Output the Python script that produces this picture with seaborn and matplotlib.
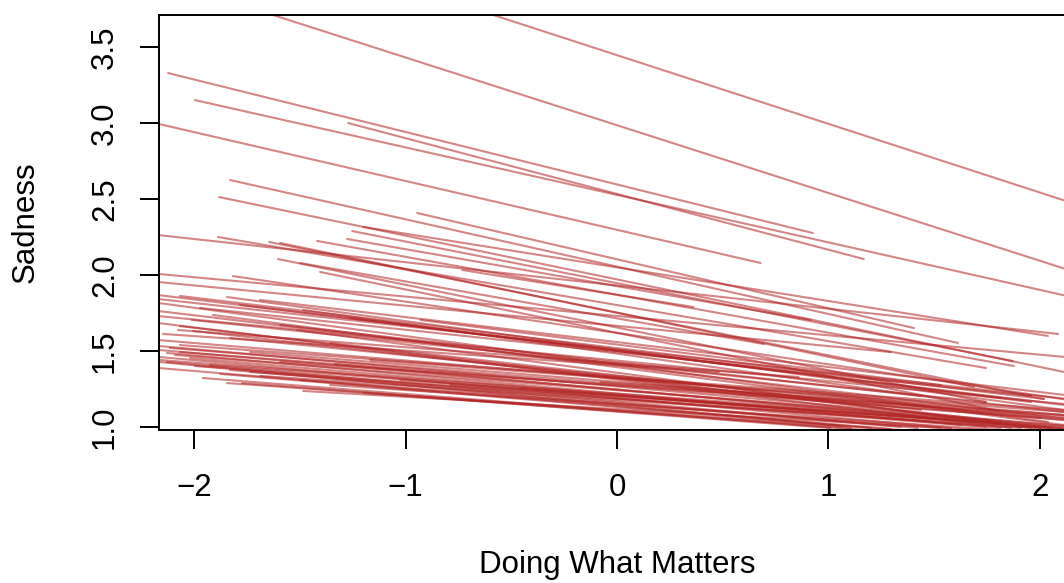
import matplotlib
matplotlib.use("Agg")
import matplotlib.pyplot as plt
import seaborn as sns
import pandas as pd

# Per-person fitted lines: start/end of each segment (Doing What Matters -> Sadness)
x_start = [-0.70, -1.75, -2.123, -1.996, -1.271, -2.17, -1.830, -1.882,
           -0.945, -1.200, -1.252, -2.17, -1.887, -1.418, -1.276, -1.645,
           -1.593, -0.732, -1.603, -1.499, -1.404, -1.816, -2.17, -2.17,
           -2.17, -2.067, -2.17, -1.844, -2.17, -2.17, -1.484, -1.911,
           -2.010, -2.17, -2.076, -2.005, -2.147, -1.513, -1.357, -1.688,
           -1.783, -1.262, -0.930, -2.067, -2.17, -1.972, -1.593, -1.830,
           -2.17, -2.17, -2.128, -2.17, -2.128, -2.17, -1.958, -1.844,
           -1.773, -1.484, -1.333, -1.200, -2.115, -2.067, -2.17, -1.996,
           -1.735, -1.593, -1.025, -0.788, -0.457, -2.17, -2.090, -2.019,
           -1.925, -1.830, -1.688, -1.499, -1.357, -2.067, -1.735, -1.167,
           -0.078, -2.17, -1.877]
y_start = [3.763, 3.766, 3.329, 3.151, 3.000, 2.995, 2.625, 2.513,
           2.408, 2.316, 2.289, 2.263, 2.250, 2.224, 2.237, 2.217,
           2.211, 2.033, 2.105, 2.079, 2.020, 1.993, 2.007, 1.954,
           1.868, 1.862, 1.842, 1.855, 1.816, 1.763, 1.770, 1.737,
           1.704, 1.684, 1.638, 1.632, 1.612, 1.638, 1.553, 1.836,
           1.803, 1.717, 1.704, 1.664, 1.730, 1.783, 1.671, 1.586,
           1.533, 1.507, 1.487, 1.461, 1.428, 1.388, 1.322, 1.289,
           1.289, 1.237, 1.414, 1.224, 1.520, 1.493, 1.441, 1.401,
           1.362, 1.428, 1.309, 1.276, 1.257, 1.572, 1.474, 1.454,
           1.408, 1.375, 1.336, 1.309, 1.276, 1.539, 1.493, 1.441,
           1.296, 1.428, 1.349]
x_end = [2.17, 2.17, 0.926, 2.17, 1.167, 0.679, 1.612, 2.114,
         1.404, 2.038, 1.872, 2.086, 1.745, 1.877, 0.916, 2.019,
         1.688, 0.362, 1.745, 0.694, 1.806, 2.17, 2.17, 1.295,
         2.114, 2.019, 2.17, 2.114, 2.038, 2.17, 1.437, 2.114,
         1.745, 1.863, 0.859, 2.100, 0.481, 1.958, 1.437, 2.114,
         1.815, 1.958, 1.531, 2.114, 2.114, 1.958, 2.114, 2.114,
         2.17, 2.114, 1.815, 1.579, 1.423, 1.295, 1.167, 1.342,
         1.010, 1.720, 2.005, 1.105, 2.005, 2.114, 1.815, 1.626,
         1.910, 2.114, 1.815, 1.579, 2.114, 2.114, 2.114, 1.745,
         2.052, 1.342, 2.114, 1.531, 1.815, 2.114, 2.114, 2.114,
         2.114, 1.058, 1.200]
y_end = [2.466, 2.018, 2.276, 1.849, 2.105, 2.079, 1.553, 1.362,
         1.651, 1.599, 1.434, 1.612, 1.388, 1.401, 1.704, 1.184,
         1.263, 1.789, 1.164, 1.546, 1.105, 1.171, 1.454, 1.493,
         1.145, 1.184, 1.178, 1.112, 1.033, 1.046, 1.204, 1.013,
         1.164, 0.993, 1.329, 0.993, 1.362, 0.993, 1.112, 1.211,
         1.191, 1.164, 1.276, 0.980, 1.151, 1.204, 1.099, 1.046,
         1.000, 0.993, 0.993, 0.993, 0.993, 0.987, 0.980, 0.980,
         0.993, 0.980, 0.993, 0.993, 1.059, 1.046, 1.033, 1.013,
         0.993, 1.072, 1.020, 1.046, 0.993, 1.079, 1.007, 1.000,
         0.993, 1.000, 0.980, 0.993, 0.980, 1.112, 1.059, 1.099,
         1.079, 1.007, 0.993]

x_ticks = [-2, -1, 0, 1, 2]
y_ticks = [1.0, 1.5, 2.0, 2.5, 3.0, 3.5]
x_label = "Doing What Matters"
y_label = "Sadness"

rows = []
for i in range(len(x_start)):
    rows.append({"id": i, "x": x_start[i], "y": y_start[i]})
    rows.append({"id": i, "x": x_end[i], "y": y_end[i]})
df = pd.DataFrame(rows)

sns.set_style("white")
plt.rcParams["font.family"] = ["Liberation Sans", "DejaVu Sans"]
plt.rcParams["text.color"] = "black"
plt.rcParams["axes.labelcolor"] = "black"

fig = plt.figure(figsize=(10.64, 5.83), dpi=100)
ax = fig.add_axes([159 / 1064, (583 - 430) / 583, (1075 - 159) / 1064, (430 - 15) / 583])

sns.lineplot(data=df, x="x", y="y", units="id", estimator=None, sort=False,
             color="firebrick", alpha=0.55, lw=1.5, legend=False, ax=ax)

ax.set_xlim(-2.166, 2.166)
ax.set_ylim(0.980, 3.711)
ax.set_xticks(x_ticks)
ax.set_xticklabels(["\u22122", "\u22121", "0", "1", "2"])
ax.set_yticks(y_ticks)
ax.set_yticklabels(["1.0", "1.5", "2.0", "2.5", "3.0", "3.5"], rotation=90, va="center")

for s in ax.spines.values():
    s.set_color("black")
    s.set_linewidth(1.4)
ax.tick_params(axis="both", direction="out", length=14, width=1.4, color="black",
               labelsize=22.5, labelcolor="black")
ax.tick_params(axis="x", pad=17)
ax.tick_params(axis="y", pad=14)
ax.tick_params(left=True, bottom=True)

ax.set_xlabel(x_label, fontsize=22.5, color="black")
ax.set_ylabel(y_label, fontsize=22.5, color="black")
ax.xaxis.label.set_va("center")
ax.yaxis.label.set_va("center")
ax.xaxis.set_label_coords(0.5, (430 - 565) / 415)
ax.yaxis.set_label_coords((26 - 159) / 916, 0.5)

fig.savefig("out.png", dpi=100)
